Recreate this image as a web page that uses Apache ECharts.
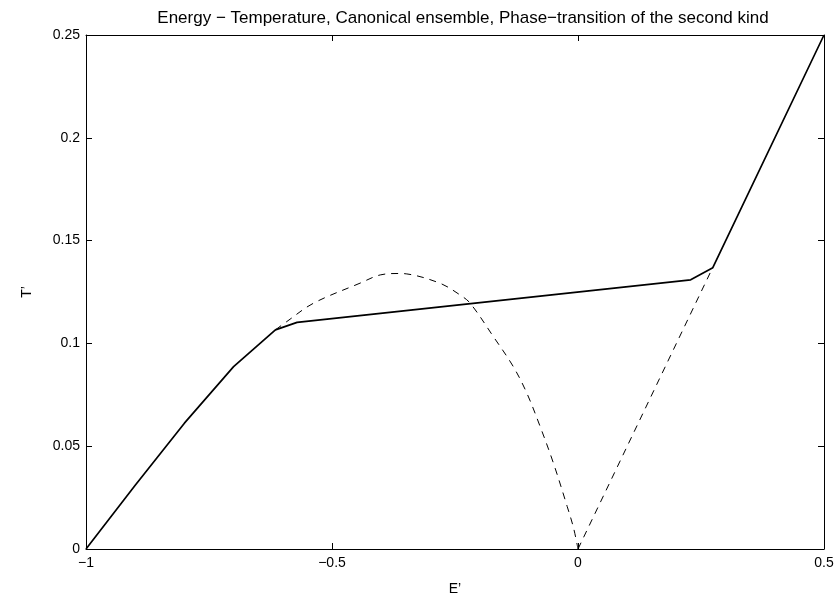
<!DOCTYPE html>
<html>
<head>
<meta charset="utf-8">
<script src="https://cdn.jsdelivr.net/npm/echarts@6/dist/echarts.min.js"></script>
<style>
  html, body { margin: 0; padding: 0; background: #fff; }
  #chart { width: 840px; height: 602px; }
</style>
</head>
<body>
<div id="chart"></div>
<script>
// stable branch (solid)
const stableE = [-1, -0.9, -0.8, -0.7, -0.615, -0.571, 0.229, 0.274, 0.5];
const stableT = [0, 0.031, 0.0612, 0.0887, 0.1066, 0.1102, 0.1309, 0.1368, 0.25];

// metastable / unstable branch (dashed curve)
const curveE = [-0.615, -0.592, -0.538, -0.443, -0.402, -0.365, -0.348, -0.28, -0.24, -0.219,
                -0.172, -0.1315, -0.104, -0.077, -0.05, -0.022, -0.009, 0];
const curveT = [0.1066, 0.1106, 0.1195, 0.1293, 0.1333, 0.134, 0.1338, 0.1292, 0.1236, 0.1195,
                0.1033, 0.0887, 0.0758, 0.0596, 0.0418, 0.0207, 0.0102, 0];

// dashed line from origin
const lineE = [0, 0.274];
const lineT = [0, 0.137];

const xTicks = [-1, -0.5, 0, 0.5];
const yTicks = [0, 0.05, 0.1, 0.15, 0.2, 0.25];

function pairs(xs, ys) {
    return xs.map((x, i) => [x, ys[i]]);
}

function minus(v) {
    return String(v).replace('-', '\u2212');
}

const font = 'Liberation Sans, Arial, sans-serif';
const black = '#000';

const chart = echarts.init(document.getElementById('chart'));

const tickStyle = {
    show: true,
    inside: true,
    length: 6,
    lineStyle: { color: black, width: 1 }
};

const boxLine = { show: true, onZero: false, lineStyle: { color: black, width: 1 } };

chart.setOption({
    animation: false,
    backgroundColor: '#fff',
    title: {
        text: 'Energy \u2212 Temperature, Canonical ensemble, Phase\u2212transition of the second kind',
        left: 458,
        top: 5,
        textAlign: 'center',
        textStyle: { fontFamily: font, fontSize: 17, fontWeight: 'normal', color: black }
    },
    grid: { left: 86, right: 16, top: 35, bottom: 53 },
    xAxis: [
        {
            type: 'value',
            min: xTicks[0], max: xTicks[xTicks.length - 1], interval: 0.5,
            name: 'E\u2019',
            nameLocation: 'middle',
            nameGap: 33,
            nameTextStyle: { fontFamily: font, fontSize: 14, color: black },
            axisLine: boxLine,
            axisTick: tickStyle,
            splitLine: { show: false },
            axisLabel: { fontFamily: font, fontSize: 14, color: black, margin: 7, formatter: minus }
        },
        {
            type: 'value',
            position: 'top',
            min: xTicks[0], max: xTicks[xTicks.length - 1], interval: 0.5,
            axisLine: boxLine,
            axisTick: tickStyle,
            splitLine: { show: false },
            axisLabel: { show: false }
        }
    ],
    yAxis: [
        {
            type: 'value',
            min: yTicks[0], max: yTicks[yTicks.length - 1], interval: 0.05,
            name: 'T\u2019',
            nameLocation: 'middle',
            nameGap: 52,
            nameTextStyle: { fontFamily: font, fontSize: 14, color: black },
            axisLine: boxLine,
            axisTick: tickStyle,
            splitLine: { show: false },
            axisLabel: { fontFamily: font, fontSize: 14, color: black, margin: 6 }
        },
        {
            type: 'value',
            position: 'right',
            min: yTicks[0], max: yTicks[yTicks.length - 1], interval: 0.05,
            axisLine: boxLine,
            axisTick: tickStyle,
            splitLine: { show: false },
            axisLabel: { show: false }
        }
    ],
    series: [
        {
            type: 'line',
            data: pairs(curveE, curveT),
            showSymbol: false,
            smooth: 0.35,
            lineStyle: { color: black, width: 1, type: [7, 6] }
        },
        {
            type: 'line',
            data: pairs(lineE, lineT),
            showSymbol: false,
            lineStyle: { color: black, width: 1, type: [7, 6] }
        },
        {
            type: 'line',
            data: pairs(stableE, stableT),
            showSymbol: false,
            lineStyle: { color: black, width: 1.7 }
        }
    ]
});
</script>
</body>
</html>
